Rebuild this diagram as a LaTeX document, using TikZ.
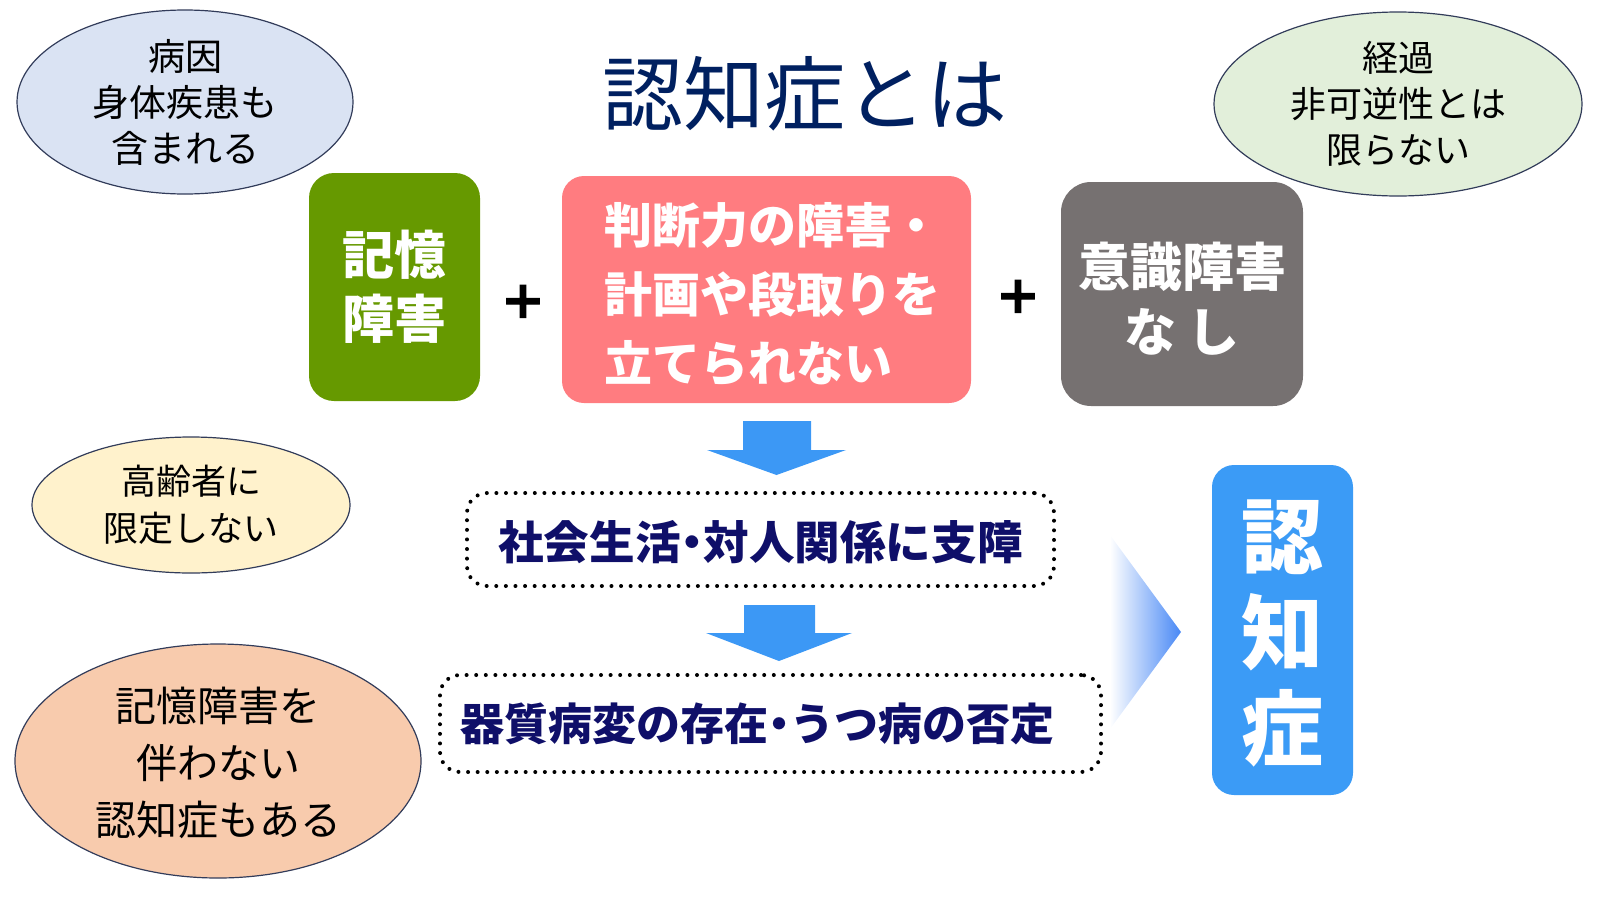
\documentclass[tikz,border=0pt]{standalone}
\usepackage{fontspec}
\setmainfont{Noto Sans CJK JP}
\newfontfamily\plusfont{Noto Sans CJK JP}[BoldFeatures={FakeBold=3}]
\usetikzlibrary{shapes.geometric}

\definecolor{titleblue}{RGB}{0,32,96}
\definecolor{memgreen}{RGB}{102,153,0}
\definecolor{judgepink}{RGB}{255,124,128}
\definecolor{consgray}{RGB}{118,113,113}
\definecolor{dxblue}{RGB}{59,155,246}
\definecolor{arrowblue}{RGB}{60,152,245}
\definecolor{chevblue}{RGB}{72,136,245}
\definecolor{navytext}{RGB}{15,15,105}
\definecolor{rimcol}{RGB}{50,60,90}
\definecolor{bubbleblue}{RGB}{218,227,243}
\definecolor{bubblegreen}{RGB}{226,239,218}
\definecolor{bubbleyellow}{RGB}{255,242,204}
\definecolor{bubblepeach}{RGB}{248,203,173}

% narrow middle dot
\newcommand\nakaguro{\kern-0.25em・\kern-0.25em}

\tikzset{
  bubble/.style={ellipse, draw=rimcol, line width=0.6pt, inner sep=0pt},
  bubbletext/.style={align=center, inner sep=0pt, text=black},
  panel/.style={inner sep=0pt, text=white, align=center, font=\bfseries},
  dotbox/.style={draw=black, line width=2pt, line cap=round,
    dash pattern=on 0pt off 4.8pt, rounded corners=10pt, inner sep=0pt},
  dottext/.style={inner sep=0pt, text=navytext},
  plussign/.style={inner sep=0pt, font=\plusfont\bfseries\fontsize{23}{28}\selectfont}
}

\begin{document}
\begin{tikzpicture}[x=0.5pt, y=-0.5pt]
  \useasboundingbox (0,0) rectangle (1600,900);

  % Title
  \node[text=titleblue, font=\fontsize{40.5}{48}\selectfont] (title) at (805,94) {認知症とは};

  % Side bubbles
  \node[bubble, fill=bubbleblue, minimum width=168pt, minimum height=92pt] (cause) at (185,102) {};
  \node[bubbletext, font=\fontsize{18.5}{23}\selectfont] (causetxt) at (cause) {病因\\身体疾患も\\含まれる};
  \node[bubble, fill=bubblegreen, minimum width=184pt, minimum height=92pt] (course) at (1398,104) {};
  \node[bubbletext, font=\fontsize{18}{23}\selectfont] (coursetxt) at (course) {経過\\非可逆性とは\\限らない};
  \node[bubble, fill=bubbleyellow, minimum width=159pt, minimum height=68pt] (age) at (191,505) {};
  \node[bubbletext, font=\fontsize{17.5}{23.5}\selectfont] (agetxt) at (age) {高齢者に\\限定しない};
  \node[bubble, fill=bubblepeach, minimum width=203pt, minimum height=117pt] (nomem) at (218,761) {};
  \node[bubbletext, font=\fontsize{20.5}{28.5}\selectfont] (nomemtxt) at ([yshift=-1pt]nomem.center) {記憶障害を\\伴わない\\認知症もある};

  % Three conditions
  \node[panel, fill=memgreen, rounded corners=12.5pt, minimum width=85.5pt, minimum height=114pt,
    font=\bfseries\fontsize{26}{32}\selectfont] (memory) at (394.5,287) {記憶\\障害};
  \node[plussign] (plusa) at (523,302) {＋};
  \node[panel, fill=judgepink, rounded corners=11pt, minimum width=204.5pt, minimum height=113.5pt] (judge) at (766.5,289.5) {};
  \node[panel, align=left, font=\bfseries\fontsize{24}{34.5}\selectfont] (judgetxt)
    at ([xshift=3pt, yshift=-2.5pt]judge.center) {判断力の障害・\\計画や段取りを\\立てられない};
  \node[plussign] (plusb) at (1018,297) {＋};
  \node[panel, fill=consgray, rounded corners=15pt, minimum width=121pt, minimum height=112pt] (conscious) at (1182,294) {};
  \node[panel, font=\bfseries\fontsize{26}{32.5}\selectfont] (conscioustxt)
    at ([yshift=-2.5pt]conscious.center) {意識障害\\な し};

  % Down arrows
  \fill[arrowblue] (743,421) -- (811,421) -- (811,450) -- (846,450) -- (776.5,475)
    -- (707,450) -- (743,450) -- cycle;
  \fill[arrowblue] (744,605) -- (815,605) -- (815,633) -- (852,633) -- (779,661)
    -- (706,633) -- (744,633) -- cycle;

  % Dotted boxes
  \node[dotbox, minimum width=293.5pt, minimum height=46.5pt] (social) at (760.5,539.5) {};
  \node[dottext, font=\bfseries\fontsize{22.8}{26}\selectfont] (socialtxt)
    at ([yshift=-1.5pt]social.center) {社会生活\nakaguro 対人関係に支障};
  \node[dotbox, minimum width=330.5pt, minimum height=48.5pt] (organic) at (770.5,723.5) {};
  \node[dottext, font=\bfseries\fontsize{22}{26}\selectfont] (organictxt)
    at ([xshift=-6.5pt]organic.center) {器質病変の存在\nakaguro うつ病の否定};

  % Chevron
  \shade[left color=white, right color=chevblue] (1110,535) -- (1181,632) -- (1110,729) -- cycle;

  % Result box
  \node[panel, fill=dxblue, rounded corners=11pt, minimum width=70.5pt, minimum height=165pt] (dementia) at (1282.5,630) {};
  \node[panel, font=\bfseries\fontsize{41}{48}\selectfont] (dementiatxt)
    at ([yshift=-1.5pt]dementia.center) {認\\知\\症};
\end{tikzpicture}
\end{document}
